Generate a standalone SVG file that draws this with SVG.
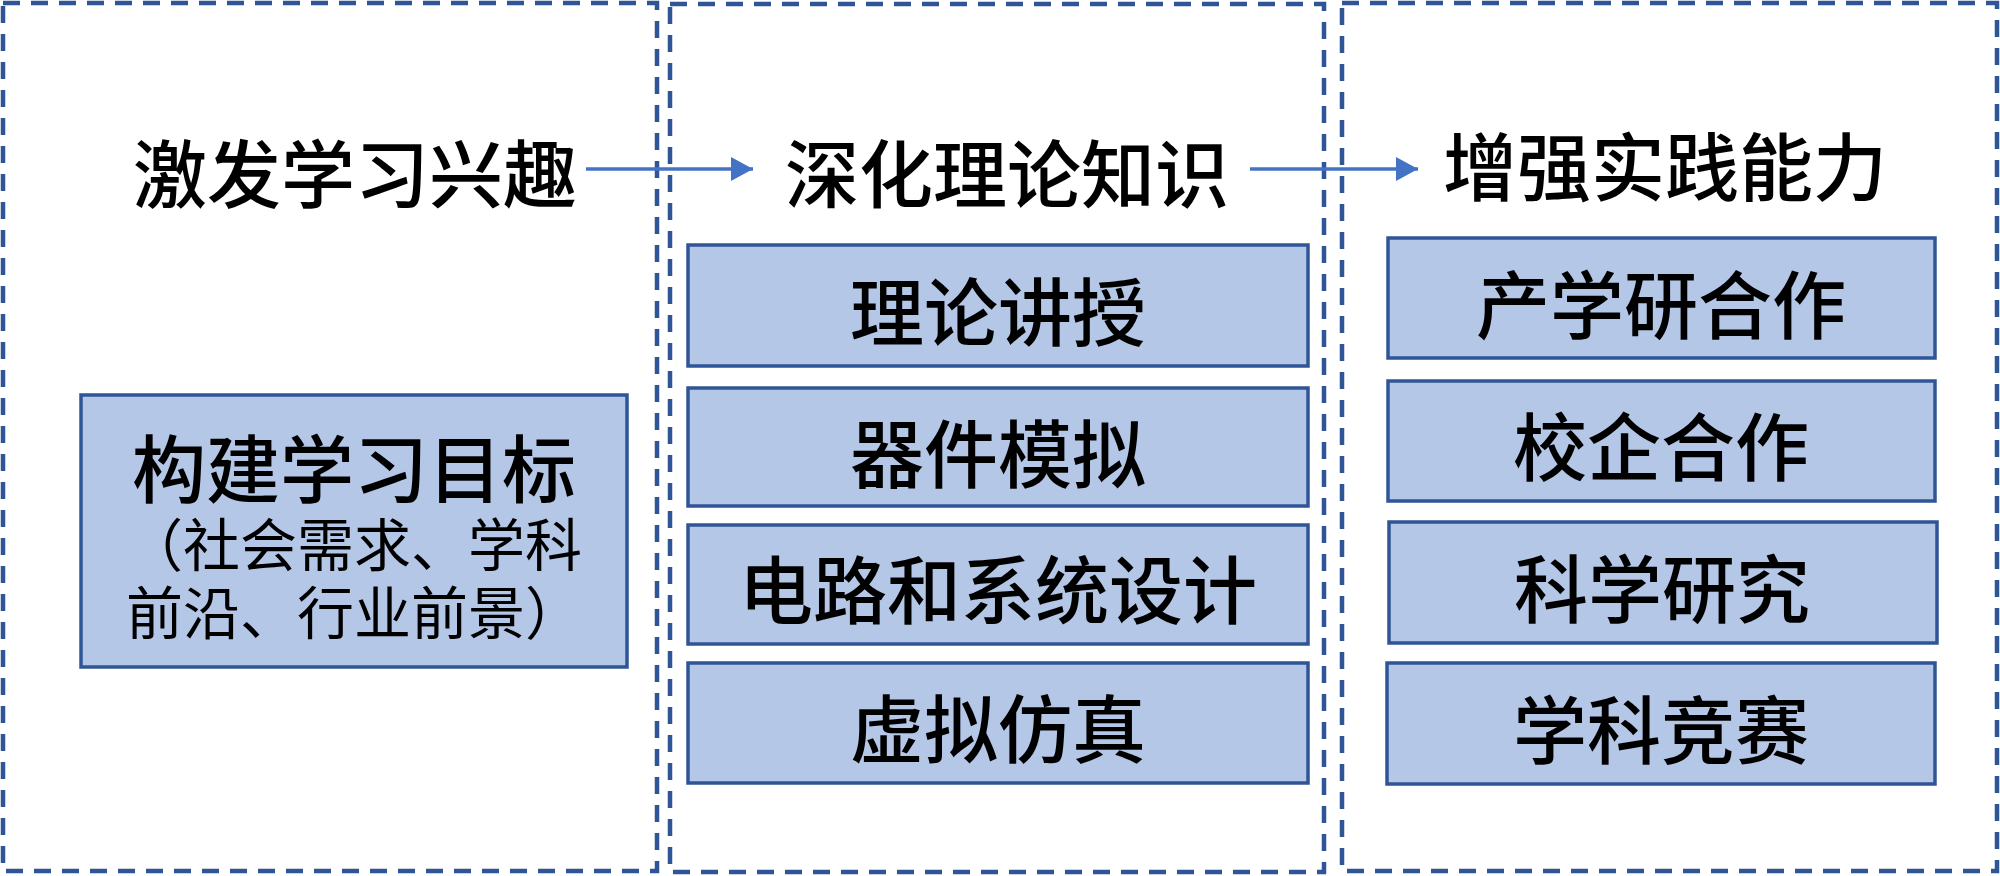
<svg xmlns="http://www.w3.org/2000/svg" width="2000" height="876" viewBox="0 0 2000 876">
<defs>
<style>
.frame{fill:none;stroke:#2F5597;stroke-width:4.5;stroke-dasharray:17 11}
.box{fill:#B4C7E7;stroke:#2F5597;stroke-width:3.5}
.t{font-family:"Noto Sans CJK SC","Noto Sans CJK JP",sans-serif;font-size:74px;font-weight:500;fill:#000;text-anchor:middle}
.s{font-family:"Liberation Serif","Noto Sans CJK SC",serif;font-size:57px;fill:#000;text-anchor:middle}
.conn{stroke:#4472C4;stroke-width:3.5;fill:none}
</style>
<marker id="ah" markerUnits="userSpaceOnUse" markerWidth="24" markerHeight="26" refX="22" refY="12" orient="auto">
<path d="M0,0 L22,12 L0,24 Z" fill="#4472C4"/>
</marker>
</defs>
<rect width="2000" height="876" fill="#fff"/>
<g id="stage1">
<rect class="frame" x="3" y="3" width="654" height="868"/>
<text class="t" x="355" y="202">激发学习兴趣</text>
</g>
<g id="stage2">
<rect class="frame" x="670" y="4" width="654" height="868"/>
<text class="t" x="1007" y="202">深化理论知识</text>
</g>
<g id="stage3">
<rect class="frame" x="1342" y="3" width="655" height="868"/>
<text class="t" x="1665" y="195">增强实践能力</text>
</g>
<g id="goal">
<rect class="box" x="81" y="395" width="546" height="272"/>
<text class="t" x="354" y="497">构建学习目标</text>
<text class="s" x="354" y="566">（社会需求、学科</text>
<text class="s" x="354" y="634">前沿、行业前景）</text>
</g>
<g id="theory">
<rect class="box" x="688" y="245" width="620" height="121"/>
<text class="t" x="998" y="340">理论讲授</text>
</g>
<g id="device">
<rect class="box" x="688" y="388" width="620" height="118"/>
<text class="t" x="998" y="482">器件模拟</text>
</g>
<g id="circuit">
<rect class="box" x="688" y="525" width="620" height="119"/>
<text class="t" x="998" y="618">电路和系统设计</text>
</g>
<g id="sim">
<rect class="box" x="688" y="663" width="620" height="120"/>
<text class="t" x="998" y="757">虚拟仿真</text>
</g>
<g id="iur">
<rect class="box" x="1388" y="238" width="547" height="120"/>
<text class="t" x="1661" y="333">产学研合作</text>
</g>
<g id="school">
<rect class="box" x="1388" y="381" width="547" height="120"/>
<text class="t" x="1661" y="475">校企合作</text>
</g>
<g id="research">
<rect class="box" x="1389" y="522" width="548" height="121"/>
<text class="t" x="1662" y="617">科学研究</text>
</g>
<g id="contest">
<rect class="box" x="1387" y="663" width="548" height="121"/>
<text class="t" x="1661" y="758">学科竞赛</text>
</g>
<g id="connectors">
<line class="conn" x1="586" y1="169" x2="753" y2="169" marker-end="url(#ah)"/>
<line class="conn" x1="1250" y1="169" x2="1418" y2="169" marker-end="url(#ah)"/>
</g>
</svg>
